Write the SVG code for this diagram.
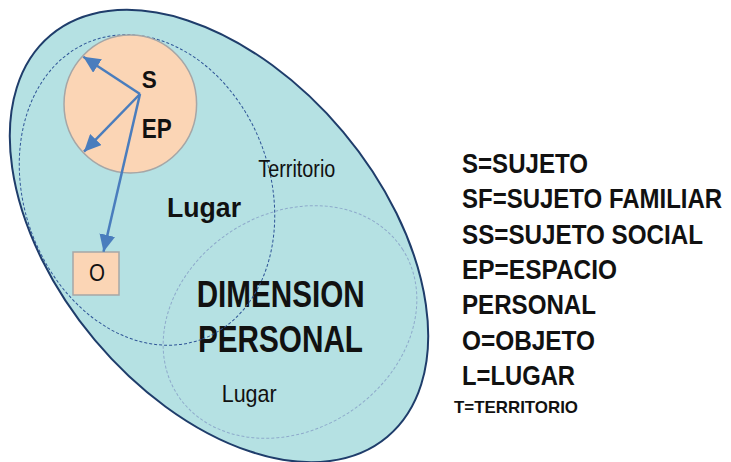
<svg xmlns="http://www.w3.org/2000/svg" width="731" height="462" viewBox="0 0 731 462">
<style>
  .t { font-family: "Liberation Sans", Arial, sans-serif; fill: #111; }
  .b { font-weight: bold; }
  .arrow { stroke: #4a7dbd; stroke-width: 2.5; fill: none; marker-end: url(#ah); }
  .peach { fill: #fbd5b5; stroke: #a6a6a6; stroke-width: 1.5; }
</style>
<defs>
  <marker id="ah" markerUnits="userSpaceOnUse" markerWidth="18" markerHeight="16" refX="17" refY="8" orient="auto">
    <path d="M0,0 L17,8 L0,16 Z" fill="#4a7dbd"/>
  </marker>
</defs>
<rect width="731" height="462" fill="#ffffff"/>

<g id="dimension-personal">
  <ellipse cx="219" cy="236" rx="262" ry="162" transform="rotate(50 219 236)" fill="#b5e1e3" stroke="#1f3d6b" stroke-width="2"/>
  <text class="t b" x="196.7" y="307.3" font-size="36" textLength="168" lengthAdjust="spacingAndGlyphs">DIMENSION</text>
  <text class="t b" x="198" y="351.7" font-size="36" textLength="165" lengthAdjust="spacingAndGlyphs">PERSONAL</text>
</g>

<g id="territorio">
  <ellipse cx="147" cy="190" rx="159" ry="123" transform="rotate(70 147 190)" fill="none" stroke="#2f5597" stroke-width="1" stroke-dasharray="3 2"/>
  <text class="t" x="258.3" y="177.3" font-size="23" textLength="77" lengthAdjust="spacingAndGlyphs">Territorio</text>
  <text class="t b" x="167" y="217" font-size="28" textLength="74" lengthAdjust="spacingAndGlyphs">Lugar</text>
</g>

<g id="lugar">
  <ellipse cx="290" cy="322" rx="134" ry="108" transform="rotate(-33 290 322)" fill="none" stroke="#8eaacb" stroke-width="1" stroke-dasharray="3 2"/>
  <text class="t" x="221.7" y="402.3" font-size="24" textLength="55" lengthAdjust="spacingAndGlyphs">Lugar</text>
</g>

<g id="espacio-personal">
  <ellipse class="peach" cx="130.3" cy="104" rx="66.3" ry="69"/>
  <text class="t b" x="141.7" y="88.3" font-size="23" textLength="15" lengthAdjust="spacingAndGlyphs">S</text>
  <text class="t b" x="141.7" y="138.3" font-size="28" textLength="30" lengthAdjust="spacingAndGlyphs">EP</text>
</g>

<g id="objeto">
  <rect class="peach" x="73" y="252" width="46" height="43"/>
  <text class="t" x="89" y="281" font-size="24" textLength="16" lengthAdjust="spacingAndGlyphs">O</text>
</g>

<g id="connectors">
  <line class="arrow" x1="140" y1="94" x2="83.3" y2="56.7"/>
  <line class="arrow" x1="140" y1="94" x2="84" y2="151.7"/>
  <line class="arrow" x1="140" y1="94" x2="103.5" y2="251.7"/>
</g>

<g id="legend">
  <text class="t b" x="462" y="173" font-size="27" textLength="126" lengthAdjust="spacingAndGlyphs">S=SUJETO</text>
  <text class="t b" transform="translate(462 208.3) scale(0.889 1)" x="0" y="0" font-size="27">SF=SUJETO FAMILIAR</text>
  <text class="t b" x="462" y="243.7" font-size="27" textLength="241" lengthAdjust="spacingAndGlyphs">SS=SUJETO SOCIAL</text>
  <text class="t b" x="462" y="279" font-size="27" textLength="155" lengthAdjust="spacingAndGlyphs">EP=ESPACIO</text>
  <text class="t b" x="462" y="314.3" font-size="27" textLength="134" lengthAdjust="spacingAndGlyphs">PERSONAL</text>
  <text class="t b" x="462" y="349.7" font-size="27" textLength="133" lengthAdjust="spacingAndGlyphs">O=OBJETO</text>
  <text class="t b" x="462" y="385" font-size="27" textLength="113" lengthAdjust="spacingAndGlyphs">L=LUGAR</text>
  <text class="t b" x="454" y="413" font-size="17" textLength="124" lengthAdjust="spacingAndGlyphs">T=TERRITORIO</text>
</g>
</svg>
